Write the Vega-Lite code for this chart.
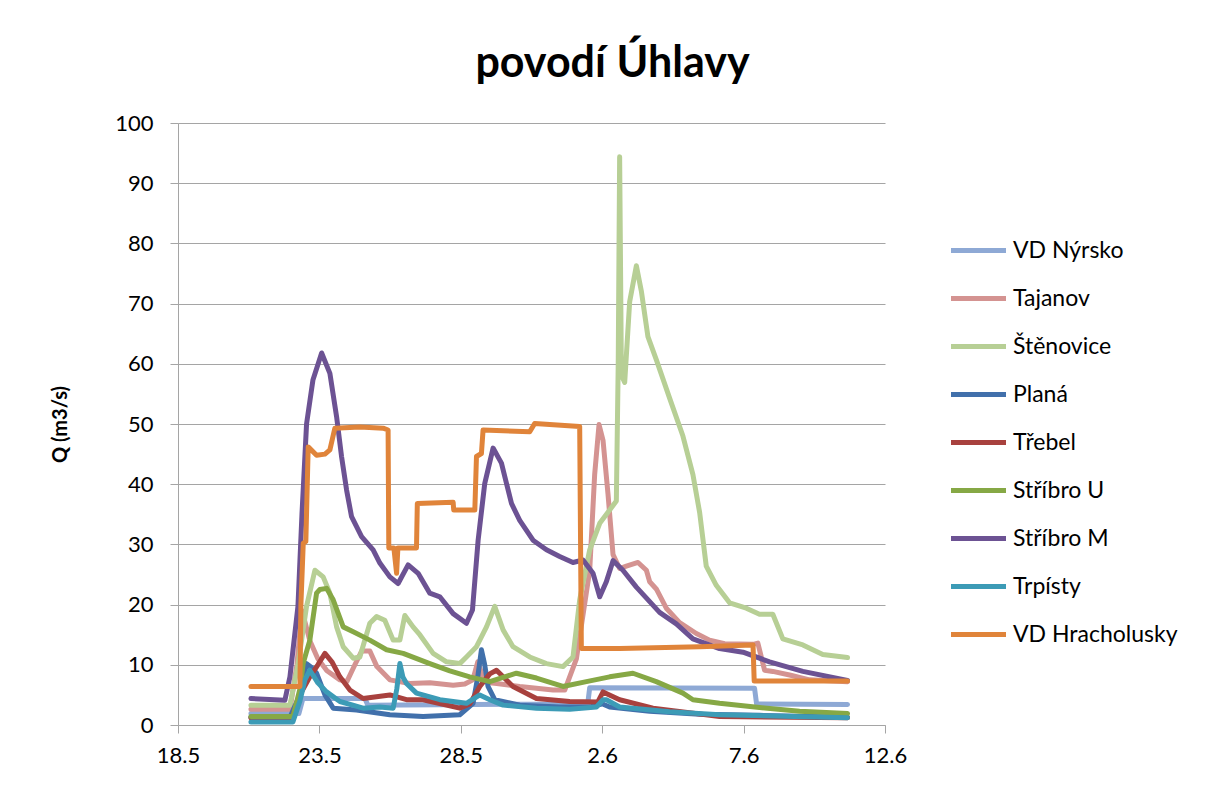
{
  "$schema": "https://vega.github.io/schema/vega-lite/v6.json",
  "width": 707,
  "height": 602,
  "autosize": {"type": "none"},
  "padding": {"left": 178, "top": 123, "right": 328, "bottom": 60},
  "background": "white",
  "title": {"text": "povodí Úhlavy", "font": "Lato", "fontSize": 43, "fontWeight": "bold", "color": "black", "anchor": "middle", "frame": "group", "dx": 81, "offset": 26},
  "config": {"view": {"stroke": null}, "font": "Lato"},
  "data": {"values": [
    {"s":"VD Nýrsko","t":"2013-05-20T13:54","q":1.9},
    {"s":"VD Nýrsko","t":"2013-05-22T06:36","q":1.9},
    {"s":"VD Nýrsko","t":"2013-05-22T10:00","q":4.4},
    {"s":"VD Nýrsko","t":"2013-05-24T14:36","q":4.4},
    {"s":"VD Nýrsko","t":"2013-05-24T17:06","q":3.3},
    {"s":"VD Nýrsko","t":"2013-06-01T11:42","q":3.5},
    {"s":"VD Nýrsko","t":"2013-06-01T13:24","q":6.2},
    {"s":"VD Nýrsko","t":"2013-06-07T09:18","q":6.1},
    {"s":"VD Nýrsko","t":"2013-06-07T11:00","q":3.5},
    {"s":"VD Nýrsko","t":"2013-06-10T16:12","q":3.4},

    {"s":"Tajanov","t":"2013-05-20T13:54","q":2.6},
    {"s":"Tajanov","t":"2013-05-21T23:00","q":2.6},
    {"s":"Tajanov","t":"2013-05-22T04:54","q":10},
    {"s":"Tajanov","t":"2013-05-22T09:12","q":19},
    {"s":"Tajanov","t":"2013-05-22T15:54","q":14},
    {"s":"Tajanov","t":"2013-05-22T22:42","q":11},
    {"s":"Tajanov","t":"2013-05-23T06:24","q":9},
    {"s":"Tajanov","t":"2013-05-23T17:24","q":7.5},
    {"s":"Tajanov","t":"2013-05-23T23:18","q":7.2},
    {"s":"Tajanov","t":"2013-05-24T06:06","q":10},
    {"s":"Tajanov","t":"2013-05-24T12:00","q":12.3},
    {"s":"Tajanov","t":"2013-05-24T18:48","q":12.3},
    {"s":"Tajanov","t":"2013-05-25T00:48","q":9.7},
    {"s":"Tajanov","t":"2013-05-25T11:48","q":7.5},
    {"s":"Tajanov","t":"2013-05-26T04:42","q":6.9},
    {"s":"Tajanov","t":"2013-05-26T21:42","q":7},
    {"s":"Tajanov","t":"2013-05-27T17:30","q":6.6},
    {"s":"Tajanov","t":"2013-05-28T03:24","q":6.8},
    {"s":"Tajanov","t":"2013-05-28T10:12","q":7.5},
    {"s":"Tajanov","t":"2013-05-28T14:24","q":10.5},
    {"s":"Tajanov","t":"2013-05-28T18:36","q":8},
    {"s":"Tajanov","t":"2013-05-29T00:36","q":7},
    {"s":"Tajanov","t":"2013-05-29T06:30","q":6.9},
    {"s":"Tajanov","t":"2013-05-30T02:00","q":6.4},
    {"s":"Tajanov","t":"2013-05-31T06:18","q":5.8},
    {"s":"Tajanov","t":"2013-05-31T16:12","q":5.8},
    {"s":"Tajanov","t":"2013-05-31T20:24","q":8},
    {"s":"Tajanov","t":"2013-06-01T02:06","q":11},
    {"s":"Tajanov","t":"2013-06-01T13:24","q":25.7},
    {"s":"Tajanov","t":"2013-06-01T17:36","q":41.6},
    {"s":"Tajanov","t":"2013-06-01T21:18","q":49.9},
    {"s":"Tajanov","t":"2013-06-02T00:42","q":47.3},
    {"s":"Tajanov","t":"2013-06-02T04:54","q":38.4},
    {"s":"Tajanov","t":"2013-06-02T09:12","q":28.3},
    {"s":"Tajanov","t":"2013-06-02T14:48","q":26},
    {"s":"Tajanov","t":"2013-06-02T20:30","q":26.4},
    {"s":"Tajanov","t":"2013-06-03T06:24","q":27},
    {"s":"Tajanov","t":"2013-06-03T13:30","q":25.7},
    {"s":"Tajanov","t":"2013-06-03T16:18","q":23.8},
    {"s":"Tajanov","t":"2013-06-03T21:54","q":22.6},
    {"s":"Tajanov","t":"2013-06-04T06:24","q":19.4},
    {"s":"Tajanov","t":"2013-06-04T17:42","q":17},
    {"s":"Tajanov","t":"2013-06-05T07:54","q":15.2},
    {"s":"Tajanov","t":"2013-06-05T19:06","q":14.1},
    {"s":"Tajanov","t":"2013-06-06T07:54","q":13.5},
    {"s":"Tajanov","t":"2013-06-07T08:00","q":13.4},
    {"s":"Tajanov","t":"2013-06-07T12:06","q":13.6},
    {"s":"Tajanov","t":"2013-06-07T17:48","q":9.1},
    {"s":"Tajanov","t":"2013-06-08T00:48","q":8.9},
    {"s":"Tajanov","t":"2013-06-08T15:00","q":8.3},
    {"s":"Tajanov","t":"2013-06-09T08:00","q":7.5},
    {"s":"Tajanov","t":"2013-06-10T16:12","q":7.2},

    {"s":"Štěnovice","t":"2013-05-20T13:54","q":3.3},
    {"s":"Štěnovice","t":"2013-05-21T23:00","q":3.3},
    {"s":"Štěnovice","t":"2013-05-22T05:48","q":10},
    {"s":"Štěnovice","t":"2013-05-22T13:06","q":19.7},
    {"s":"Štěnovice","t":"2013-05-22T20:12","q":25.7},
    {"s":"Štěnovice","t":"2013-05-23T03:12","q":24.6},
    {"s":"Štěnovice","t":"2013-05-23T08:54","q":21.9},
    {"s":"Štěnovice","t":"2013-05-23T14:36","q":16.3},
    {"s":"Štěnovice","t":"2013-05-23T20:12","q":13},
    {"s":"Štěnovice","t":"2013-05-24T04:42","q":11.1},
    {"s":"Štěnovice","t":"2013-05-24T10:18","q":11.3},
    {"s":"Štěnovice","t":"2013-05-24T18:48","q":16.9},
    {"s":"Štěnovice","t":"2013-05-25T00:30","q":18},
    {"s":"Štěnovice","t":"2013-05-25T07:30","q":17.4},
    {"s":"Štěnovice","t":"2013-05-25T14:36","q":14.1},
    {"s":"Štěnovice","t":"2013-05-25T20:18","q":14.1},
    {"s":"Štěnovice","t":"2013-05-26T00:30","q":18.2},
    {"s":"Štěnovice","t":"2013-05-26T07:30","q":16.3},
    {"s":"Štěnovice","t":"2013-05-26T13:12","q":15},
    {"s":"Štěnovice","t":"2013-05-27T00:30","q":11.9},
    {"s":"Štěnovice","t":"2013-05-27T11:54","q":10.5},
    {"s":"Štěnovice","t":"2013-05-27T23:06","q":10.2},
    {"s":"Štěnovice","t":"2013-05-28T04:48","q":11.3},
    {"s":"Štěnovice","t":"2013-05-28T13:18","q":13},
    {"s":"Štěnovice","t":"2013-05-28T21:48","q":16.3},
    {"s":"Štěnovice","t":"2013-05-29T04:48","q":19.7},
    {"s":"Štěnovice","t":"2013-05-29T11:54","q":15.8},
    {"s":"Štěnovice","t":"2013-05-29T20:18","q":13},
    {"s":"Štěnovice","t":"2013-05-30T10:30","q":11.3},
    {"s":"Štěnovice","t":"2013-05-31T00:42","q":10.2},
    {"s":"Štěnovice","t":"2013-05-31T14:42","q":9.7},
    {"s":"Štěnovice","t":"2013-05-31T23:12","q":11.3},
    {"s":"Štěnovice","t":"2013-06-01T04:54","q":20.8},
    {"s":"Štěnovice","t":"2013-06-01T13:24","q":29.1},
    {"s":"Štěnovice","t":"2013-06-01T21:54","q":33.5},
    {"s":"Štěnovice","t":"2013-06-02T12:00","q":37.2},
    {"s":"Štěnovice","t":"2013-06-02T13:36","q":60},
    {"s":"Štěnovice","t":"2013-06-02T14:48","q":94.4},
    {"s":"Štěnovice","t":"2013-06-02T16:18","q":58.1},
    {"s":"Štěnovice","t":"2013-06-02T19:06","q":56.9},
    {"s":"Štěnovice","t":"2013-06-02T23:18","q":70.3},
    {"s":"Štěnovice","t":"2013-06-03T05:00","q":76.3},
    {"s":"Štěnovice","t":"2013-06-03T09:12","q":72.1},
    {"s":"Štěnovice","t":"2013-06-03T14:48","q":64.5},
    {"s":"Štěnovice","t":"2013-06-03T21:54","q":60.7},
    {"s":"Štěnovice","t":"2013-06-04T09:12","q":54.3},
    {"s":"Štěnovice","t":"2013-06-04T20:30","q":48},
    {"s":"Štěnovice","t":"2013-06-05T05:00","q":41.6},
    {"s":"Štěnovice","t":"2013-06-05T10:42","q":35.3},
    {"s":"Štěnovice","t":"2013-06-05T16:18","q":26.4},
    {"s":"Štěnovice","t":"2013-06-06T00:48","q":23.2},
    {"s":"Štěnovice","t":"2013-06-06T12:06","q":20.3},
    {"s":"Štěnovice","t":"2013-06-07T02:18","q":19.4},
    {"s":"Štěnovice","t":"2013-06-07T13:30","q":18.4},
    {"s":"Štěnovice","t":"2013-06-08T00:48","q":18.4},
    {"s":"Štěnovice","t":"2013-06-08T09:18","q":14.3},
    {"s":"Štěnovice","t":"2013-06-09T02:18","q":13.3},
    {"s":"Štěnovice","t":"2013-06-09T19:12","q":11.7},
    {"s":"Štěnovice","t":"2013-06-10T16:12","q":11.2},

    {"s":"Planá","t":"2013-05-20T13:54","q":1.3},
    {"s":"Planá","t":"2013-05-21T23:00","q":1.3},
    {"s":"Planá","t":"2013-05-22T07:30","q":5},
    {"s":"Planá","t":"2013-05-22T13:06","q":10.2},
    {"s":"Planá","t":"2013-05-22T17:36","q":9.5},
    {"s":"Planá","t":"2013-05-22T21:36","q":8.6},
    {"s":"Planá","t":"2013-05-23T04:42","q":5},
    {"s":"Planá","t":"2013-05-23T11:42","q":2.8},
    {"s":"Planá","t":"2013-05-24T07:30","q":2.5},
    {"s":"Planá","t":"2013-05-25T11:48","q":1.7},
    {"s":"Planá","t":"2013-05-26T16:00","q":1.4},
    {"s":"Planá","t":"2013-05-27T23:06","q":1.7},
    {"s":"Planá","t":"2013-05-28T10:24","q":3.6},
    {"s":"Planá","t":"2013-05-28T14:24","q":8},
    {"s":"Planá","t":"2013-05-28T17:30","q":12.5},
    {"s":"Planá","t":"2013-05-28T20:18","q":10},
    {"s":"Planá","t":"2013-05-28T23:06","q":6.4},
    {"s":"Planá","t":"2013-05-29T04:48","q":4.2},
    {"s":"Planá","t":"2013-05-30T02:00","q":3.3},
    {"s":"Planá","t":"2013-05-31T11:54","q":3},
    {"s":"Planá","t":"2013-06-01T13:24","q":3},
    {"s":"Planá","t":"2013-06-02T00:24","q":3.5},
    {"s":"Planá","t":"2013-06-02T06:18","q":3},
    {"s":"Planá","t":"2013-06-03T16:18","q":2.3},
    {"s":"Planá","t":"2013-06-05T10:42","q":1.8},
    {"s":"Planá","t":"2013-06-07T13:30","q":1.6},
    {"s":"Planá","t":"2013-06-10T16:12","q":1.3},

    {"s":"Třebel","t":"2013-05-20T13:54","q":1.2},
    {"s":"Třebel","t":"2013-05-22T00:42","q":1.2},
    {"s":"Třebel","t":"2013-05-22T07:30","q":5},
    {"s":"Třebel","t":"2013-05-22T15:54","q":8},
    {"s":"Třebel","t":"2013-05-22T22:42","q":10},
    {"s":"Třebel","t":"2013-05-23T04:42","q":11.9},
    {"s":"Třebel","t":"2013-05-23T10:36","q":10.5},
    {"s":"Třebel","t":"2013-05-23T17:24","q":8},
    {"s":"Třebel","t":"2013-05-24T01:54","q":5.8},
    {"s":"Třebel","t":"2013-05-24T13:06","q":4.4},
    {"s":"Třebel","t":"2013-05-25T11:48","q":5},
    {"s":"Třebel","t":"2013-05-26T01:54","q":4.2},
    {"s":"Třebel","t":"2013-05-26T16:00","q":4.2},
    {"s":"Třebel","t":"2013-05-27T23:06","q":2.8},
    {"s":"Třebel","t":"2013-05-28T07:36","q":3.5},
    {"s":"Třebel","t":"2013-05-28T16:06","q":6.4},
    {"s":"Třebel","t":"2013-05-29T00:36","q":8.5},
    {"s":"Třebel","t":"2013-05-29T06:18","q":9.1},
    {"s":"Třebel","t":"2013-05-29T20:18","q":6.4},
    {"s":"Třebel","t":"2013-05-30T16:12","q":4.4},
    {"s":"Třebel","t":"2013-05-31T20:24","q":3.9},
    {"s":"Třebel","t":"2013-06-01T20:12","q":3.8},
    {"s":"Třebel","t":"2013-06-02T00:42","q":5.5},
    {"s":"Třebel","t":"2013-06-02T14:48","q":4.2},
    {"s":"Třebel","t":"2013-06-03T19:06","q":2.8},
    {"s":"Třebel","t":"2013-06-06T03:36","q":1.4},
    {"s":"Třebel","t":"2013-06-10T16:12","q":1.2},

    {"s":"Stříbro U","t":"2013-05-20T13:54","q":1.4},
    {"s":"Stříbro U","t":"2013-05-22T01:30","q":1.4},
    {"s":"Stříbro U","t":"2013-05-22T07:30","q":6},
    {"s":"Stříbro U","t":"2013-05-22T10:18","q":10.3},
    {"s":"Stříbro U","t":"2013-05-22T15:54","q":14.1},
    {"s":"Stříbro U","t":"2013-05-22T21:36","q":21.9},
    {"s":"Stříbro U","t":"2013-05-23T00:24","q":22.5},
    {"s":"Stříbro U","t":"2013-05-23T06:06","q":22.7},
    {"s":"Stříbro U","t":"2013-05-23T11:42","q":20.8},
    {"s":"Stříbro U","t":"2013-05-23T20:12","q":16.3},
    {"s":"Stříbro U","t":"2013-05-24T04:42","q":15.5},
    {"s":"Stříbro U","t":"2013-05-24T18:48","q":14.1},
    {"s":"Stříbro U","t":"2013-05-25T09:00","q":12.5},
    {"s":"Stříbro U","t":"2013-05-25T23:06","q":11.9},
    {"s":"Stříbro U","t":"2013-05-26T21:42","q":10.2},
    {"s":"Stříbro U","t":"2013-05-27T14:42","q":9},
    {"s":"Stříbro U","t":"2013-05-28T07:36","q":8},
    {"s":"Stříbro U","t":"2013-05-29T00:36","q":7.2},
    {"s":"Stříbro U","t":"2013-05-29T13:18","q":8},
    {"s":"Stříbro U","t":"2013-05-29T23:12","q":8.6},
    {"s":"Stříbro U","t":"2013-05-30T16:12","q":7.8},
    {"s":"Stříbro U","t":"2013-05-31T14:42","q":6.4},
    {"s":"Stříbro U","t":"2013-06-01T10:36","q":7.2},
    {"s":"Stříbro U","t":"2013-06-02T06:18","q":8},
    {"s":"Stříbro U","t":"2013-06-03T02:06","q":8.6},
    {"s":"Stříbro U","t":"2013-06-03T21:54","q":7.2},
    {"s":"Stříbro U","t":"2013-06-04T20:30","q":5.3},
    {"s":"Stříbro U","t":"2013-06-05T05:00","q":4.2},
    {"s":"Stříbro U","t":"2013-06-06T03:36","q":3.6},
    {"s":"Stříbro U","t":"2013-06-07T13:30","q":2.9},
    {"s":"Stříbro U","t":"2013-06-08T23:30","q":2.3},
    {"s":"Stříbro U","t":"2013-06-10T16:12","q":1.9},

    {"s":"Stříbro M","t":"2013-05-20T13:54","q":4.4},
    {"s":"Stříbro M","t":"2013-05-21T18:42","q":4.1},
    {"s":"Stříbro M","t":"2013-05-21T23:00","q":8},
    {"s":"Stříbro M","t":"2013-05-22T05:48","q":19.7},
    {"s":"Stříbro M","t":"2013-05-22T09:12","q":35},
    {"s":"Stříbro M","t":"2013-05-22T13:06","q":50},
    {"s":"Stříbro M","t":"2013-05-22T18:30","q":57.3},
    {"s":"Stříbro M","t":"2013-05-23T01:54","q":61.8},
    {"s":"Stříbro M","t":"2013-05-23T08:54","q":58.4},
    {"s":"Stříbro M","t":"2013-05-23T14:36","q":51.2},
    {"s":"Stříbro M","t":"2013-05-23T18:48","q":44.6},
    {"s":"Stříbro M","t":"2013-05-23T23:06","q":39},
    {"s":"Stříbro M","t":"2013-05-24T03:18","q":34.6},
    {"s":"Stříbro M","t":"2013-05-24T11:48","q":31.3},
    {"s":"Stříbro M","t":"2013-05-24T21:36","q":29.1},
    {"s":"Stříbro M","t":"2013-05-25T03:18","q":26.9},
    {"s":"Stříbro M","t":"2013-05-25T11:48","q":24.6},
    {"s":"Stříbro M","t":"2013-05-25T18:48","q":23.5},
    {"s":"Stříbro M","t":"2013-05-26T03:18","q":26.6},
    {"s":"Stříbro M","t":"2013-05-26T11:48","q":25.2},
    {"s":"Stříbro M","t":"2013-05-26T21:42","q":21.9},
    {"s":"Stříbro M","t":"2013-05-27T06:12","q":21.3},
    {"s":"Stříbro M","t":"2013-05-27T17:30","q":18.5},
    {"s":"Stříbro M","t":"2013-05-28T04:48","q":16.9},
    {"s":"Stříbro M","t":"2013-05-28T09:54","q":19.1},
    {"s":"Stříbro M","t":"2013-05-28T14:42","q":30.7},
    {"s":"Stříbro M","t":"2013-05-28T20:18","q":40.1},
    {"s":"Stříbro M","t":"2013-05-29T03:24","q":46},
    {"s":"Stříbro M","t":"2013-05-29T10:30","q":43.5},
    {"s":"Stříbro M","t":"2013-05-29T19:00","q":36.8},
    {"s":"Stříbro M","t":"2013-05-30T02:00","q":34},
    {"s":"Stříbro M","t":"2013-05-30T13:18","q":30.7},
    {"s":"Stříbro M","t":"2013-05-31T00:42","q":29.1},
    {"s":"Stříbro M","t":"2013-05-31T11:54","q":28},
    {"s":"Stříbro M","t":"2013-05-31T23:12","q":27},
    {"s":"Stříbro M","t":"2013-06-01T07:42","q":27.4},
    {"s":"Stříbro M","t":"2013-06-01T16:12","q":25.2},
    {"s":"Stříbro M","t":"2013-06-01T21:54","q":21.3},
    {"s":"Stříbro M","t":"2013-06-02T03:30","q":23.8},
    {"s":"Stříbro M","t":"2013-06-02T09:12","q":27.3},
    {"s":"Stříbro M","t":"2013-06-02T17:36","q":25.7},
    {"s":"Stříbro M","t":"2013-06-03T05:00","q":22.9},
    {"s":"Stříbro M","t":"2013-06-04T00:42","q":18.7},
    {"s":"Stříbro M","t":"2013-06-04T14:54","q":16.8},
    {"s":"Stříbro M","t":"2013-06-05T05:00","q":14.3},
    {"s":"Stříbro M","t":"2013-06-06T03:36","q":12.7},
    {"s":"Stříbro M","t":"2013-06-06T23:30","q":12.1},
    {"s":"Stříbro M","t":"2013-06-07T22:00","q":10.5},
    {"s":"Stříbro M","t":"2013-06-09T02:18","q":8.9},
    {"s":"Stříbro M","t":"2013-06-10T16:12","q":7.4},

    {"s":"Trpísty","t":"2013-05-20T13:54","q":0.5},
    {"s":"Trpísty","t":"2013-05-22T01:30","q":0.5},
    {"s":"Trpísty","t":"2013-05-22T07:30","q":4},
    {"s":"Trpísty","t":"2013-05-22T11:42","q":7.5},
    {"s":"Trpísty","t":"2013-05-22T15:54","q":9.1},
    {"s":"Trpísty","t":"2013-05-22T22:42","q":7},
    {"s":"Trpísty","t":"2013-05-23T06:06","q":5.5},
    {"s":"Trpísty","t":"2013-05-23T17:24","q":3.9},
    {"s":"Trpísty","t":"2013-05-24T13:06","q":2.8},
    {"s":"Trpísty","t":"2013-05-25T03:18","q":3},
    {"s":"Trpísty","t":"2013-05-25T14:36","q":2.8},
    {"s":"Trpísty","t":"2013-05-25T17:42","q":6},
    {"s":"Trpísty","t":"2013-05-25T20:18","q":10.2},
    {"s":"Trpísty","t":"2013-05-25T22:48","q":8},
    {"s":"Trpísty","t":"2013-05-26T01:54","q":6.9},
    {"s":"Trpísty","t":"2013-05-26T10:24","q":5.3},
    {"s":"Trpísty","t":"2013-05-27T06:12","q":4.2},
    {"s":"Trpísty","t":"2013-05-28T04:48","q":3.6},
    {"s":"Trpísty","t":"2013-05-28T16:06","q":5},
    {"s":"Trpísty","t":"2013-05-29T00:36","q":4.2},
    {"s":"Trpísty","t":"2013-05-29T11:54","q":3.3},
    {"s":"Trpísty","t":"2013-05-30T16:12","q":2.8},
    {"s":"Trpísty","t":"2013-05-31T20:24","q":2.6},
    {"s":"Trpísty","t":"2013-06-01T19:06","q":3},
    {"s":"Trpísty","t":"2013-06-02T00:42","q":4.2},
    {"s":"Trpísty","t":"2013-06-02T03:30","q":4.2},
    {"s":"Trpísty","t":"2013-06-02T14:48","q":3},
    {"s":"Trpísty","t":"2013-06-04T09:12","q":2.2},
    {"s":"Trpísty","t":"2013-06-06T03:36","q":1.7},
    {"s":"Trpísty","t":"2013-06-10T16:12","q":1.2},

    {"s":"VD Hracholusky","t":"2013-05-20T13:54","q":6.4},
    {"s":"VD Hracholusky","t":"2013-05-22T07:30","q":6.4},
    {"s":"VD Hracholusky","t":"2013-05-22T08:18","q":20},
    {"s":"VD Hracholusky","t":"2013-05-22T10:18","q":30.2},
    {"s":"VD Hracholusky","t":"2013-05-22T12:30","q":30.5},
    {"s":"VD Hracholusky","t":"2013-05-22T14:30","q":46.2},
    {"s":"VD Hracholusky","t":"2013-05-22T21:36","q":44.8},
    {"s":"VD Hracholusky","t":"2013-05-23T04:42","q":45},
    {"s":"VD Hracholusky","t":"2013-05-23T08:54","q":45.7},
    {"s":"VD Hracholusky","t":"2013-05-23T13:06","q":49.3},
    {"s":"VD Hracholusky","t":"2013-05-24T10:18","q":49.5},
    {"s":"VD Hracholusky","t":"2013-05-25T06:06","q":49.3},
    {"s":"VD Hracholusky","t":"2013-05-25T10:18","q":49},
    {"s":"VD Hracholusky","t":"2013-05-25T10:54","q":29.4},
    {"s":"VD Hracholusky","t":"2013-05-25T15:12","q":29.4},
    {"s":"VD Hracholusky","t":"2013-05-25T17:30","q":25.2},
    {"s":"VD Hracholusky","t":"2013-05-25T18:36","q":29.4},
    {"s":"VD Hracholusky","t":"2013-05-26T10:24","q":29.4},
    {"s":"VD Hracholusky","t":"2013-05-26T11:06","q":36.8},
    {"s":"VD Hracholusky","t":"2013-05-27T17:30","q":37},
    {"s":"VD Hracholusky","t":"2013-05-27T18:00","q":35.7},
    {"s":"VD Hracholusky","t":"2013-05-28T11:54","q":35.7},
    {"s":"VD Hracholusky","t":"2013-05-28T13:18","q":44.6},
    {"s":"VD Hracholusky","t":"2013-05-28T17:30","q":45.1},
    {"s":"VD Hracholusky","t":"2013-05-28T18:54","q":49},
    {"s":"VD Hracholusky","t":"2013-05-30T10:30","q":48.7},
    {"s":"VD Hracholusky","t":"2013-05-30T14:42","q":50.1},
    {"s":"VD Hracholusky","t":"2013-06-01T04:54","q":49.6},
    {"s":"VD Hracholusky","t":"2013-06-01T06:18","q":12.7},
    {"s":"VD Hracholusky","t":"2013-06-02T14:48","q":12.7},
    {"s":"VD Hracholusky","t":"2013-06-05T10:42","q":13},
    {"s":"VD Hracholusky","t":"2013-06-07T08:00","q":13.3},
    {"s":"VD Hracholusky","t":"2013-06-07T09:00","q":7.3},
    {"s":"VD Hracholusky","t":"2013-06-10T16:12","q":7.3}
  ]},
  "mark": {"type": "line", "strokeWidth": 5, "strokeCap": "round", "strokeJoin": "round"},
  "encoding": {
    "x": {
      "field": "t", "type": "temporal",
      "scale": {"domain": [{"year": 2013, "month": 5, "date": 18}, {"year": 2013, "month": 6, "date": 12}]},
      "axis": {
        "title": null, "grid": false, "format": "%-d.%-m",
        "values": [{"year": 2013, "month": 5, "date": 18}, {"year": 2013, "month": 5, "date": 23}, {"year": 2013, "month": 5, "date": 28}, {"year": 2013, "month": 6, "date": 2}, {"year": 2013, "month": 6, "date": 7}, {"year": 2013, "month": 6, "date": 12}],
        "labelFont": "Lato", "labelFontSize": 22, "labelColor": "black", "labelPadding": 12,
        "tickSize": 8, "tickColor": "#A5A5A5", "domainColor": "#A5A5A5", "labelFlush": false, "labelOverlap": false
      }
    },
    "y": {
      "field": "q", "type": "quantitative",
      "scale": {"domain": [0, 100], "nice": false},
      "axis": {
        "values": [0, 10, 20, 30, 40, 50, 60, 70, 80, 90, 100],
        "title": "Q (m3/s)", "titleFont": "Lato", "titleFontSize": 20, "titleFontWeight": "bold", "titleColor": "black",
        "titleX": -108, "titleY": 301,
        "labelFont": "Lato", "labelFontSize": 22, "labelColor": "black", "labelPadding": 17,
        "tickSize": 8, "tickColor": "#A5A5A5", "domainColor": "#A5A5A5", "gridColor": "#A5A5A5", "gridWidth": 1.2
      }
    },
    "color": {
      "field": "s", "type": "nominal",
      "scale": {
        "domain": ["VD Nýrsko", "Tajanov", "Štěnovice", "Planá", "Třebel", "Stříbro U", "Stříbro M", "Trpísty", "VD Hracholusky"],
        "range": ["#8EA9D5", "#D49391", "#B7CF95", "#4170AB", "#A8413E", "#86A845", "#6C5293", "#3C9BB6", "#E0843A"]
      },
      "legend": {
        "title": null, "orient": "none", "legendX": 789, "legendY": 116, "padding": 0,
        "symbolType": "M-5,0H5", "symbolSize": 121, "symbolStrokeWidth": 5,
        "labelFont": "Lato", "labelFontSize": 23, "labelColor": "black", "labelOffset": 23, "labelLimit": 300,
        "rowPadding": 24
      }
    }
  }
}
